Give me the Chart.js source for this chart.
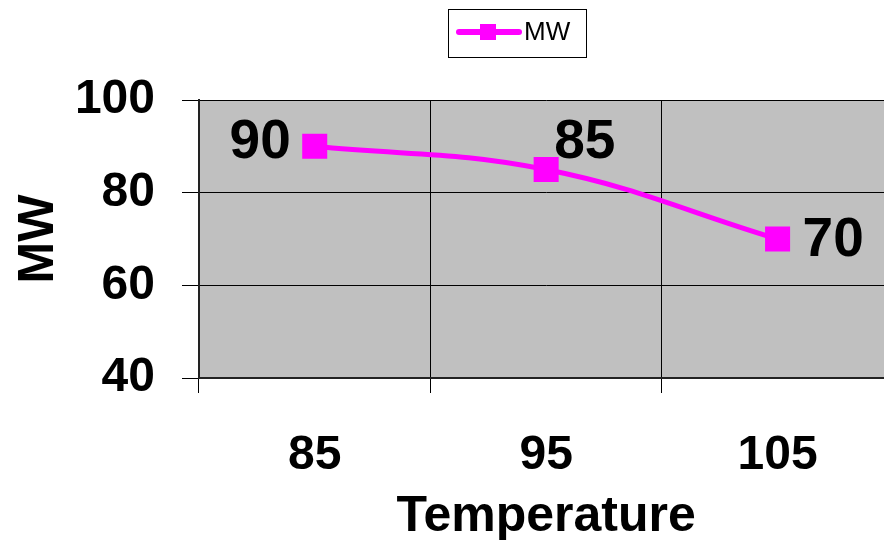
<!DOCTYPE html>
<html>
<head>
<meta charset="utf-8">
<script src="https://cdn.jsdelivr.net/npm/chart.js@4"></script>
<style>
html,body{margin:0;padding:0;overflow:hidden;background:#fff;}
#wrap{width:911px;height:540px;}
</style>
</head>
<body>
<div id="wrap"><canvas id="c" width="911" height="540"></canvas></div>
<script>
const categories = ['85', '95', '105'];
const mwValues = [90, 85, 70];
const yTicks = [40, 60, 80, 100];
const seriesName = 'MW';
const xTitle = 'Temperature';
const yTitle = 'MW';

const FONT = '"Liberation Sans", Arial, sans-serif';
const MAGENTA = '#FF00FF';

const bgPlugin = {
  id: 'bg',
  beforeDraw(chart) {
    const {ctx, chartArea: a} = chart;
    ctx.save();
    ctx.fillStyle = '#C0C0C0';
    ctx.fillRect(a.left, a.top, a.right - a.left, a.bottom - a.top);
    ctx.restore();
  }
};

const labelOffsets = [
  {dx: -24, dy: -4, align: 'right'},
  {dx: 8, dy: -27, align: 'left'},
  {dx: 25, dy: 2, align: 'left'}
];

const labelPlugin = {
  id: 'vals',
  afterDatasetsDraw(chart) {
    const {ctx} = chart;
    const meta = chart.getDatasetMeta(0);
    ctx.save();
    ctx.font = 'bold 55px ' + FONT;
    ctx.fillStyle = '#000';
    ctx.textBaseline = 'middle';
    meta.data.forEach((pt, i) => {
      const o = labelOffsets[i];
      ctx.textAlign = o.align;
      ctx.fillText(String(mwValues[i]), pt.x + o.dx, pt.y + o.dy);
    });
    ctx.restore();
  }
};

const legendPlugin = {
  id: 'customLegend',
  afterDraw(chart) {
    const {ctx} = chart;
    ctx.save();
    ctx.strokeStyle = '#000';
    ctx.lineWidth = 1;
    ctx.strokeRect(448.5, 9.5, 138, 48);
    ctx.strokeStyle = MAGENTA;
    ctx.lineWidth = 6;
    ctx.lineCap = 'round';
    ctx.beginPath();
    ctx.moveTo(459, 32);
    ctx.lineTo(519, 32);
    ctx.stroke();
    ctx.fillStyle = MAGENTA;
    ctx.fillRect(480, 24, 16, 16);
    ctx.fillStyle = '#000';
    ctx.font = '26px ' + FONT;
    ctx.textAlign = 'left';
    ctx.textBaseline = 'middle';
    ctx.fillText(seriesName, 524, 33);
    ctx.restore();
  }
};

new Chart(document.getElementById('c'), {
  type: 'line',
  data: {
    labels: categories,
    datasets: [{
      label: seriesName,
      data: mwValues,
      borderColor: MAGENTA,
      backgroundColor: MAGENTA,
      borderWidth: 5,
      tension: 0.4,
      pointStyle: 'rect',
      pointRadius: 17.7,
      pointHoverRadius: 17.7,
      pointBorderWidth: 0,
      fill: false
    }]
  },
  options: {
    responsive: false,
    animation: false,
    events: [],
    layout: {padding: {top: 100, right: 0, left: 0, bottom: 0}},
    plugins: {legend: {display: false}, tooltip: {enabled: false}},
    scales: {
      x: {
        type: 'category',
        offset: true,
        afterFit(s) { s.height = 162; s.paddingLeft = 0; s.paddingRight = 0; },
        grid: {offset: true, color: '#000', lineWidth: 1, tickLength: 15, drawTicks: true},
        border: {color: '#222', width: 2},
        ticks: {color: '#000', font: {family: FONT, size: 48, weight: 'bold'}, padding: 34, maxRotation: 0},
        title: {display: true, text: xTitle, color: '#000', font: {family: FONT, size: 50, weight: 'bold', lineHeight: 0.9}, padding: 0}
      },
      y: {
        min: 40, max: 100,
        afterFit(s) { s.width = 199; s.paddingTop = 0; s.paddingBottom = 0; },
        afterBuildTicks(s) { s.ticks = yTicks.map(v => ({value: v})); },
        grid: {color: '#000', lineWidth: 1, tickLength: 17, drawTicks: true},
        border: {color: '#222', width: 2},
        ticks: {color: '#000', font: {family: FONT, size: 48, weight: 'bold'}, padding: 27},
        title: {display: true, text: yTitle, color: '#000', font: {family: FONT, size: 50, weight: 'bold', lineHeight: 1.2}, padding: {top: 9, bottom: 0}}
      }
    }
  },
  plugins: [bgPlugin, labelPlugin, legendPlugin]
});
</script>
</body>
</html>
